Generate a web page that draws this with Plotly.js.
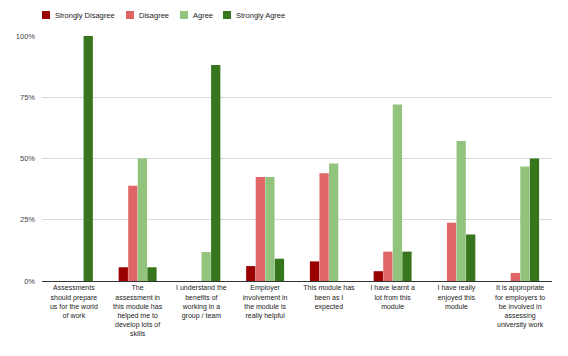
<!DOCTYPE html>
<html>
<head>
<meta charset="utf-8">
<script src="https://cdn.plot.ly/plotly-3.0.1.min.js"></script>
<style>html,body{margin:0;padding:0;background:#fff}#chart{width:568px;height:356px}</style>
</head>
<body>
<div id="chart"></div>
<script>
const categories = [
  "Assessments<br>should prepare<br>us for the world<br>of work",
  "The<br>assessment in<br>this module has<br>helped me to<br>develop lots of<br>skills",
  "I understand the<br>benefits of<br>working in a<br>group / team",
  "Employer<br>involvement in<br>the module is<br>really helpful",
  "This module has<br>been as I<br>expected",
  "I have learnt a<br>lot from this<br>module",
  "I have really<br>enjoyed this<br>module",
  "It is appropriate<br>for employers to<br>be involved in<br>assessing<br>university work"
];
const seriesNames = ["Strongly Disagree", "Disagree", "Agree", "Strongly Agree"];
const stronglyDisagree = [0, 5.6, 0, 6.1, 8, 4, 0, 0];
const disagree         = [0, 38.9, 0, 42.4, 44, 12, 23.8, 3.3];
const agree            = [0, 50, 11.8, 42.4, 48, 72, 57.1, 46.7];
const stronglyAgree    = [100, 5.6, 88.2, 9.1, 0, 12, 19, 50];
const yTicks = [0, 25, 50, 75, 100];
const yTickLabels = ["0%", "25%", "50%", "75%", "100%"];

const colors = ["#990000", "#e06666", "#93c47d", "#38761d"];
const values = [stronglyDisagree, disagree, agree, stronglyAgree];
const xIdx = categories.map((_, i) => i);

const traces = values.map((v, k) => ({
  type: "bar",
  name: seriesNames[k],
  x: xIdx,
  y: v,
  marker: { color: colors[k], line: { width: 0 } },
  hoverinfo: "skip",
  showlegend: false
}));

// manual legend (paper coords)
const legX = [42, 126, 180, 223];
const shapes = [];
const annotations = [];
const W = 568, H = 356, L = 42, R = 16, T = 36, B = 75;
const pw = W - L - R, ph = H - T - B;
legX.forEach((px, k) => {
  const x0 = (px - L) / pw, x1 = (px + 8 - L) / pw;
  const y0 = 1 + (T - 19) / ph, y1 = 1 + (T - 11) / ph;
  shapes.push({ type: "rect", xref: "paper", yref: "paper", x0, x1, y0, y1,
    fillcolor: colors[k], line: { width: 0 } });
  annotations.push({ xref: "paper", yref: "paper", x: (px + 11 - L) / pw, y: 1 + (T - 15) / ph,
    xanchor: "left", yanchor: "middle", showarrow: false, text: seriesNames[k],
    font: { family: "Liberation Sans, Arial, sans-serif", size: 7.5, color: "#222" } });
});

const layout = {
  width: W, height: H,
  margin: { l: L, r: R, t: T, b: B, pad: 0 },
  paper_bgcolor: "#fff", plot_bgcolor: "#fff",
  font: { family: "Liberation Sans, Arial, sans-serif", size: 7.5, color: "#444" },
  barmode: "group", bargap: 0.4, bargroupgap: 0.03,
  showlegend: false,
  xaxis: {
    tickmode: "array", tickvals: xIdx, ticktext: categories,
    range: [-0.5, categories.length - 0.5],
    showgrid: false, zeroline: false, showline: true, linecolor: "#333", linewidth: 1,
    ticks: "", tickfont: { size: 7, color: "#222" }, fixedrange: true
  },
  yaxis: {
    range: [0, 100], tickmode: "array", tickvals: yTicks, ticktext: yTickLabels,
    showgrid: true, gridcolor: "#d9d9d9", gridwidth: 1,
    zeroline: false, showline: false, ticks: "", ticklabelstandoff: 6,
    tickfont: { size: 7.5, color: "#444" }, fixedrange: true
  },
  shapes, annotations
};

Plotly.newPlot("chart", traces, layout, { displayModeBar: false, staticPlot: true });
</script>
</body>
</html>
